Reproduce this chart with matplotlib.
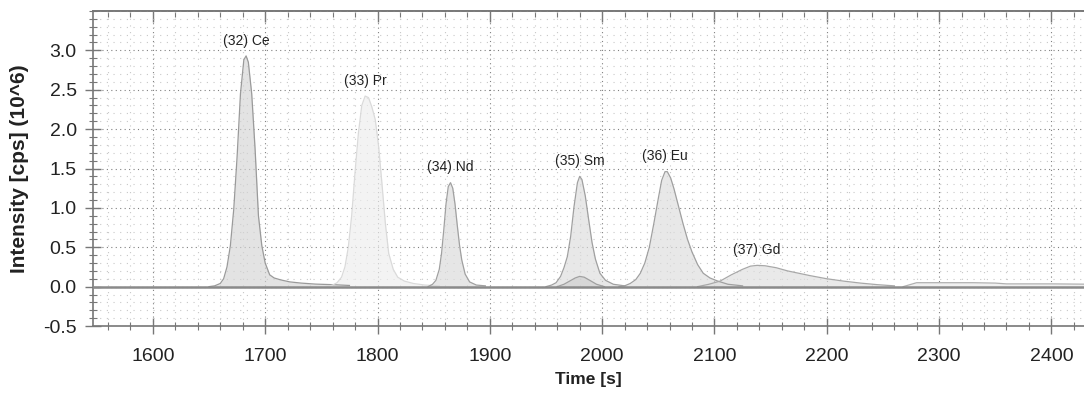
import numpy as np
import matplotlib
matplotlib.use("Agg")
import matplotlib.pyplot as plt
from matplotlib.ticker import MultipleLocator, FormatStrFormatter

plt.rcParams["font.family"] = ["Liberation Sans", "DejaVu Sans"]

# peak traces (time [s], intensity [10^6 cps])
ce_t = [1650, 1655, 1660, 1663, 1666, 1669, 1672, 1675, 1678, 1681, 1683, 1685, 1688, 1691, 1694, 1697, 1700, 1704, 1708, 1714, 1722, 1732, 1745, 1760, 1775]
ce_v = [0.0, 0.01, 0.04, 0.10, 0.25, 0.52, 0.98, 1.65, 2.45, 2.88, 2.93, 2.85, 2.45, 1.75, 0.90, 0.52, 0.30, 0.15, 0.11, 0.085, 0.06, 0.045, 0.032, 0.025, 0.015]

pr_t = [1755, 1760, 1764, 1768, 1771, 1774, 1777, 1780, 1783, 1786, 1789, 1792, 1795, 1798, 1801, 1804, 1807, 1810, 1814, 1818, 1824, 1832, 1842, 1855]
pr_v = [0.0, 0.02, 0.05, 0.12, 0.25, 0.50, 0.90, 1.45, 1.95, 2.30, 2.42, 2.40, 2.28, 2.12, 1.78, 1.30, 0.80, 0.42, 0.22, 0.12, 0.07, 0.04, 0.02, 0.01]

nd_t = [1845, 1849, 1852, 1855, 1857, 1859, 1861, 1863, 1865, 1867, 1869, 1871, 1873, 1875, 1878, 1882, 1888, 1896]
nd_v = [0.0, 0.03, 0.08, 0.22, 0.42, 0.72, 1.05, 1.27, 1.32, 1.25, 1.05, 0.78, 0.53, 0.34, 0.16, 0.06, 0.02, 0.01]

sm_t = [1950, 1955, 1959, 1963, 1966, 1969, 1972, 1975, 1978, 1980, 1982, 1985, 1988, 1991, 1994, 1998, 2003, 2010, 2020]
sm_v = [0.0, 0.02, 0.05, 0.13, 0.24, 0.38, 0.64, 1.02, 1.32, 1.40, 1.36, 1.15, 0.85, 0.56, 0.35, 0.17, 0.08, 0.03, 0.01]

sm2_t = [1960, 1966, 1971, 1976, 1980, 1984, 1989, 1995, 2002]
sm2_v = [0.0, 0.03, 0.07, 0.11, 0.13, 0.12, 0.08, 0.03, 0.0]

eu_t = [2015, 2020, 2025, 2030, 2034, 2038, 2042, 2046, 2050, 2053, 2056, 2058, 2061, 2064, 2068, 2072, 2076, 2080, 2085, 2090, 2096, 2103, 2112, 2125]
eu_v = [0.0, 0.01, 0.04, 0.09, 0.17, 0.30, 0.50, 0.80, 1.12, 1.35, 1.46, 1.46, 1.38, 1.24, 1.02, 0.80, 0.60, 0.44, 0.28, 0.17, 0.11, 0.07, 0.03, 0.01]

gd_t = [2085, 2095, 2105, 2115, 2125, 2132, 2138, 2145, 2155, 2165, 2175, 2185, 2200, 2215, 2230, 2245, 2260]
gd_v = [0.0, 0.03, 0.07, 0.15, 0.22, 0.26, 0.27, 0.265, 0.24, 0.20, 0.17, 0.14, 0.10, 0.07, 0.045, 0.025, 0.01]

tail_t = [2268, 2280, 2300, 2330, 2350, 2360, 2400, 2440]
tail_v = [0.0, 0.05, 0.05, 0.05, 0.045, 0.035, 0.035, 0.03]

labels = ["(32) Ce", "(33) Pr", "(34) Nd", "(35) Sm", "(36) Eu", "(37) Gd"]

peaks = [
    (ce_t, ce_v, "#d4d4d4", "#9a9a9a"),
    (pr_t, pr_v, "#eeeeee", "#dadada"),
    (nd_t, nd_v, "#dadada", "#a0a0a0"),
    (sm_t, sm_v, "#dcdcdc", "#a0a0a0"),
    (eu_t, eu_v, "#dcdcdc", "#a0a0a0"),
    (gd_t, gd_v, "#dedede", "#a8a8a8"),
]

fig = plt.figure(figsize=(10.84, 4.01), dpi=100)
ax = fig.add_axes([0.0861, 0.187, 0.9139, 0.7856])

for (t, v, fc, ec), lab in zip(peaks, labels):
    ax.fill_between(t, v, 0, color=fc, alpha=0.65, lw=0, zorder=2)
    ax.plot(t, v, color=ec, lw=0.9, zorder=3)
    i = int(np.argmax(v))
    ax.annotate(lab, (t[i], v[i]), xytext=(0, 11), textcoords="offset points",
                ha="center", va="center", fontsize=10, color="#222222", zorder=5)

ax.fill_between(sm2_t, sm2_v, 0, color="#c8c8c8", alpha=0.5, lw=0, zorder=3)
ax.plot(sm2_t, sm2_v, color="#a0a0a0", lw=0.9, zorder=3)
ax.fill_between(tail_t, tail_v, 0, color="#f0f0f0", lw=0, zorder=2)
ax.plot(tail_t, tail_v, color="#b0b0b0", lw=0.9, zorder=3)

ax.axhline(0, color="#8a8a8a", lw=1.8, zorder=4)

ax.set_xlim(1547, 2429)
ax.set_ylim(-0.5, 3.5)
ax.xaxis.set_major_locator(MultipleLocator(100))
ax.xaxis.set_minor_locator(MultipleLocator(20))
ax.set_yticks(np.arange(-0.5, 3.01, 0.5))
ax.yaxis.set_minor_locator(MultipleLocator(0.1))
ax.yaxis.set_major_formatter(FormatStrFormatter("%.1f"))

ax.grid(which="major", color="#808080", ls=(0, (1, 3)), lw=0.8, zorder=0)
ax.grid(which="minor", color="#c8c8c8", ls=(0, (1, 5)), lw=0.8, zorder=0)

for s in ["left", "bottom", "top"]:
    ax.spines[s].set_color("#777777")
    ax.spines[s].set_linewidth(1.2)
ax.spines["right"].set_visible(False)

ax.tick_params(which="major", direction="inout", length=12, width=1, color="#777777",
               labelsize=14, labelcolor="#222222")
ax.tick_params(which="minor", direction="inout", length=6, width=0.8, color="#777777")
ax.tick_params(axis="x", which="major", pad=10)
ax.tick_params(axis="y", which="major", pad=6)

# ticks along the top edge point inward only
top = ax.secondary_xaxis("top")
top.xaxis.set_major_locator(MultipleLocator(100))
top.xaxis.set_minor_locator(MultipleLocator(20))
top.tick_params(which="major", direction="in", length=8, width=1, color="#777777", labeltop=False)
top.tick_params(which="minor", direction="in", length=4, width=0.8, color="#777777")
top.spines["top"].set_color("#777777")
top.spines["top"].set_linewidth(1.2)

ax.set_xlabel("Time [s]", fontsize=12.5, fontweight="bold", color="#222222", labelpad=5)
ax.set_ylabel("Intensity [cps] (10^6)", fontsize=15, fontweight="bold", color="#222222", labelpad=10)

fig.savefig("out.png", dpi=100)
